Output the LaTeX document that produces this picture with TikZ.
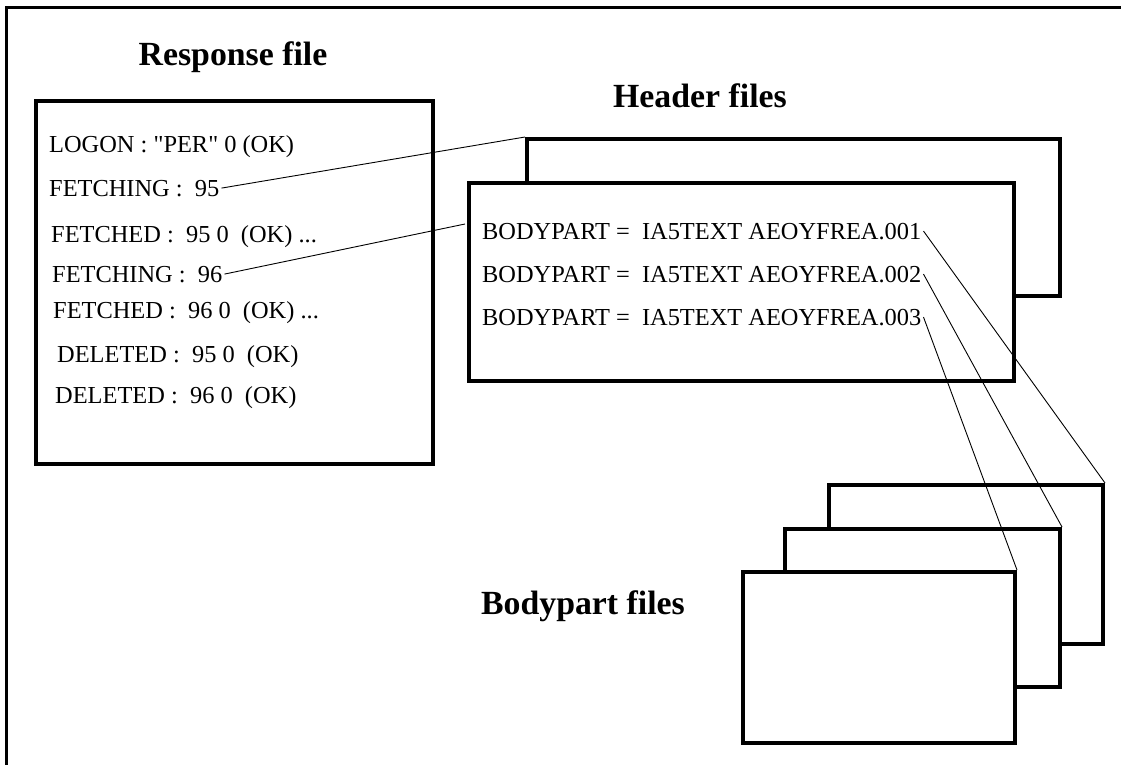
\documentclass[tikz,border=0pt]{standalone}
\usepackage{fontspec}
\setmainfont{Liberation Serif}
\newfontfamily\rawserif{Liberation Serif}
\begin{document}
\begin{tikzpicture}[x=1pt,y=-1pt,
  box/.style={draw=black, fill=white, line width=4pt, anchor=north west, inner sep=0pt},
  txt/.style={anchor=base west, inner xsep=2pt, inner ysep=0pt, font=\fontsize{24.4}{28}\selectfont},
  ttl/.style={anchor=base, inner sep=0pt, font=\fontsize{33.8}{38}\selectfont\bfseries},
  conn/.style={line width=0.9pt},
  frame/.style={line width=3pt}]
\useasboundingbox (0,0) rectangle (1121,765);
% outer frame (only top and left visible)
\coordinate (fbl) at (6,770);
\coordinate (ftl) at (6,7.5);
\coordinate (ftr) at (1125,7.5);
\draw[frame] (fbl) -- (ftl) -- (ftr);

% titles
\node[ttl] (trsp) at (233,66) {Response file};
\node[ttl] (thdr) at (700,108) {Header files};
\node[ttl] (tbdy) at (583,614) {Bodypart files};

% response file box
\node[box, minimum width=397pt, minimum height=363pt] (resp) at (34,99) {};

% header files boxes
\node[box, minimum width=533pt, minimum height=157pt] (hback) at (525,137) {};
\node[box, minimum width=545pt, minimum height=198pt] (hfront) at (467,181) {};

% bodypart files boxes
\node[box, minimum width=274pt, minimum height=159pt] (bback) at (827,483) {};
\node[box, minimum width=275pt, minimum height=158pt] (bmid) at (783,527) {};
\node[box, minimum width=272pt, minimum height=171pt] (bfront) at (741,570) {};

% response file lines
\node[txt] (l1) at (47,152) {\rawserif LOGON : "PER" 0 (OK)};
\node[txt] (l2) at (47,196) {FETCHING :~~95};
\node[txt] (l3) at (49,242) {FETCHED :~~95 0~~(OK) ...};
\node[txt] (l4) at (50,282) {FETCHING :~~96};
\node[txt] (l5) at (51,318) {FETCHED :~~96 0~~(OK) ...};
\node[txt] (l6) at (55,362) {DELETED :~~95 0~~(OK)};
\node[txt] (l7) at (53,403) {DELETED :~~96 0~~(OK)};

% header file lines
\node[txt] (b1) at (480,239) {BODYPART =~~IA5TEXT AEOYFREA.001};
\node[txt] (b2) at (480,282) {BODYPART =~~IA5TEXT AEOYFREA.002};
\node[txt] (b3) at (480,325) {BODYPART =~~IA5TEXT AEOYFREA.003};

% connectors
\coordinate (hfin) at (465,224);
\draw[conn] (l2.east) -- (hback.north west);
\draw[conn] (l4.east) -- (hfin);
\draw[conn] (b1.east) -- (bback.north east);
\draw[conn] (b2.east) -- (bmid.north east);
\draw[conn] (b3.east) -- (bfront.north east);
\end{tikzpicture}
\end{document}
